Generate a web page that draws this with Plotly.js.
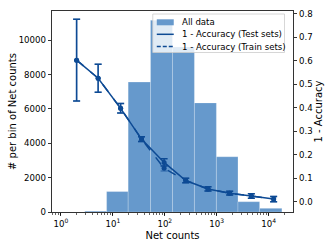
<!DOCTYPE html>
<html><head><meta charset="utf-8">
<script src="https://cdn.plot.ly/plotly-3.0.1.min.js"></script>
<style>html,body{margin:0;padding:0;background:#fff}#chart{width:332px;height:249px}</style>
</head><body><div id="chart"></div>
<script>
// Histogram of net counts (log-spaced bins)
const binEdges = [2.88, 7.57, 19.7, 53.1, 140.6, 372, 986, 2570, 6714, 18030];
const binCounts = [50, 1190, 7560, 11160, 9610, 6350, 3215, 600, 215];

// 1 - Accuracy per net-count bin
const accX = [2.0, 5.2, 14.1, 35.6, 97, 253, 680, 1778, 4650, 12500];
const testY = [0.602, 0.525, 0.397, 0.266, 0.167, 0.090, 0.054, 0.036, 0.024, 0.011];
const testErr = [0.174, 0.060, 0.020, 0.010, 0.015, 0.010, 0.009, 0.008, 0.010, 0.011];
const trainY = [0.602, 0.525, 0.397, 0.266, 0.142, 0.090, 0.054, 0.036, 0.024, 0.011];
const trainErr = [0.174, 0.060, 0.020, 0.010, 0.012, 0.010, 0.009, 0.008, 0.010, 0.011];

const xTickVals = [1, 10, 100, 1000, 10000];
const xTickText = ['10<sup>0</sup>', '10<sup>1</sup>', '10<sup>2</sup>', '10<sup>3</sup>', '10<sup>4</sup>'];
const legendNames = ['All data', '1 - Accuracy (Test sets)', '1 - Accuracy (Train sets)'];

const barColor = '#6699cc';
const lineColor = '#0d4a94';
const FS = 8.6;

const barX = binCounts.map((c, i) => (binEdges[i] + binEdges[i + 1]) / 2);
const barW = binCounts.map((c, i) => binEdges[i + 1] - binEdges[i]);

const traces = [
  {type: 'bar', x: barX, y: binCounts, width: barW, name: legendNames[0], yaxis: 'y',
   marker: {color: barColor, line: {color: 'rgba(255,255,255,0.35)', width: 0.6}}},
  {type: 'scatter', mode: 'lines', x: accX, y: trainY, yaxis: 'y2', name: legendNames[2],
   line: {color: lineColor, width: 1.5, dash: 'dash'}},
  {type: 'scatter', mode: 'markers', x: accX, y: trainY, yaxis: 'y2',
   marker: {color: lineColor, size: 5},
   error_y: {type: 'data', array: trainErr, visible: true, color: 'rgba(13,74,148,0.45)', thickness: 1.5, width: 3.5}},
  {type: 'scatter', mode: 'lines', x: accX, y: testY, yaxis: 'y2', name: legendNames[1],
   line: {color: lineColor, width: 1.5}},
  {type: 'scatter', mode: 'markers', x: accX, y: testY, yaxis: 'y2',
   marker: {color: lineColor, size: 5},
   error_y: {type: 'data', array: testErr, visible: true, color: lineColor, thickness: 1.5, width: 3.5}}
];

// plot area in pixels
const W = 332, H = 249, L = 52, R = 38.5, T = 11, B = 37;
const pw = W - L - R, ph = H - T - B;
const px = v => (v - L) / pw;
const py = v => 1 - (v - T) / ph;

// hand-built legend (matplotlib-like compact rows)
const lg = {x0: 153, x1: 285, y0: 14, y1: 52.5, sx0: 157, sx1: 174, tx: 181, rows: [22.3, 34.3, 46.5]};
const shapes = [
  {type: 'rect', xref: 'paper', yref: 'paper', x0: px(lg.x0), x1: px(lg.x1), y0: py(lg.y1), y1: py(lg.y0),
   fillcolor: 'rgba(255,255,255,0.8)', line: {color: '#cccccc', width: 0.8}},
  {type: 'rect', xref: 'paper', yref: 'paper', x0: px(lg.sx0), x1: px(lg.sx1), y0: py(lg.rows[0] + 3), y1: py(lg.rows[0] - 3),
   fillcolor: barColor, line: {width: 0}},
  {type: 'line', xref: 'paper', yref: 'paper', x0: px(lg.sx0), x1: px(lg.sx1), y0: py(lg.rows[1]), y1: py(lg.rows[1]),
   line: {color: lineColor, width: 1.5}},
  {type: 'line', xref: 'paper', yref: 'paper', x0: px(lg.sx0), x1: px(lg.sx1), y0: py(lg.rows[2]), y1: py(lg.rows[2]),
   line: {color: lineColor, width: 1.5, dash: '4px,2px'}}
];
const annotations = legendNames.map((t, i) => ({
  xref: 'paper', yref: 'paper', x: px(lg.tx), y: py(lg.rows[i]), xanchor: 'left', yanchor: 'middle',
  text: t, showarrow: false, font: {size: FS, color: '#000'}, borderpad: 0
}));

const axCommon = {ticks: 'outside', ticklen: 3.5, tickwidth: 0.8, tickcolor: '#000',
  showline: true, linecolor: '#000', linewidth: 0.8, showgrid: false, zeroline: false};

const layout = {
  width: W, height: H,
  margin: {l: L, r: R, t: T, b: B},
  paper_bgcolor: '#fff', plot_bgcolor: '#fff',
  font: {family: 'DejaVu Sans', size: FS, color: '#000'},
  showlegend: false, bargap: 0, barmode: 'overlay',
  xaxis: Object.assign({}, axCommon, {type: 'log', range: [-0.173, 4.47], tickmode: 'array',
    tickvals: xTickVals, ticktext: xTickText, mirror: true,
    title: {text: 'Net counts', standoff: 4},
    minor: {ticks: 'outside', ticklen: 2, tickwidth: 0.6, tickcolor: '#000', dtick: 'D1', showgrid: false}}),
  yaxis: Object.assign({}, axCommon, {range: [0, 11700], tick0: 0, dtick: 2000, tickformat: 'd',
    title: {text: '# per bin of Net counts', standoff: 0}}),
  yaxis2: Object.assign({}, axCommon, {overlaying: 'y', side: 'right', range: [-0.044, 0.811],
    tick0: 0, dtick: 0.1, tickformat: '.1f', title: {text: '1 - Accuracy', standoff: 2}}),
  shapes: shapes,
  annotations: annotations
};

Plotly.newPlot('chart', traces, layout, {staticPlot: true, displayModeBar: false});
</script>
</body></html>
